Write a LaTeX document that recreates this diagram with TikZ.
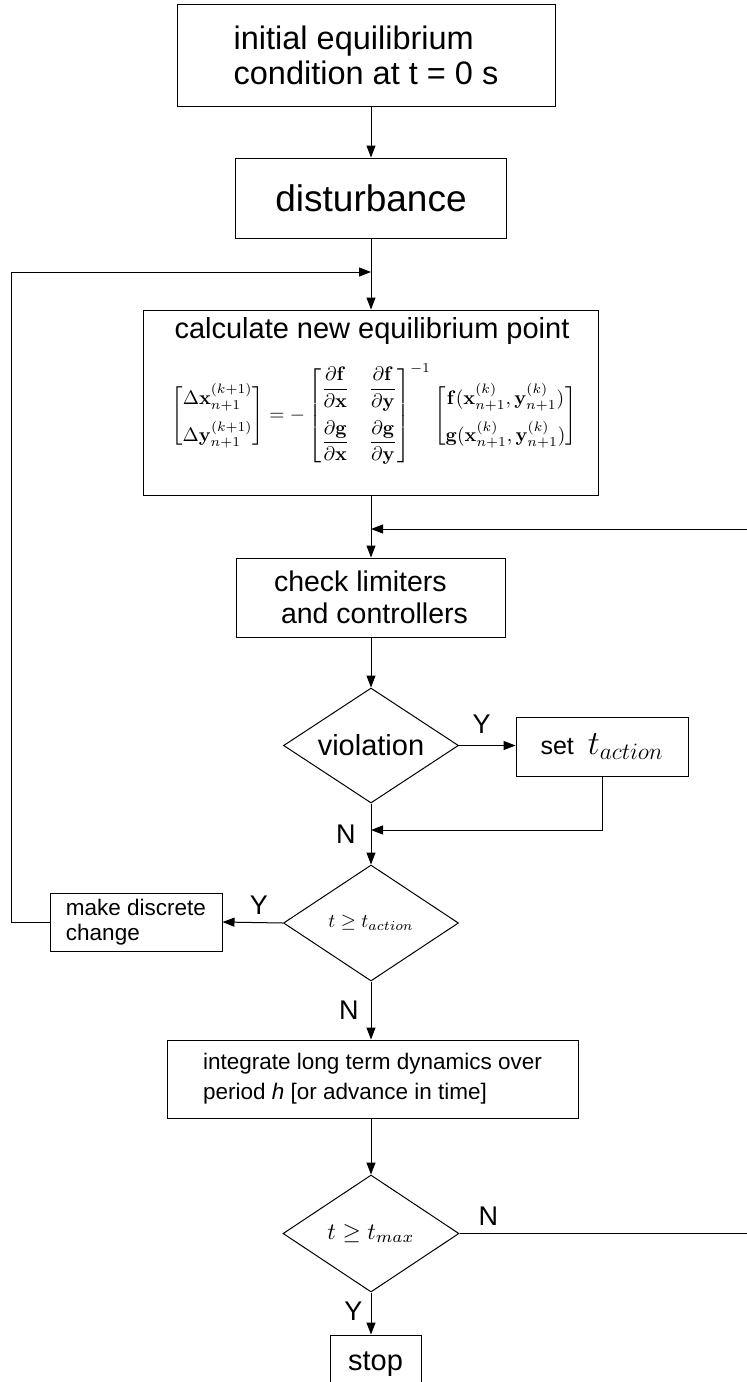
\documentclass[tikz,border=0pt]{standalone}
\usepackage{amsmath}
\usepackage{graphicx}
\usepackage[no-math]{fontspec}
\setmainfont{Liberation Sans}
\usetikzlibrary{shapes.geometric,arrows.meta}
\begin{document}
\begin{tikzpicture}[x=1pt,y=-1pt,
  box/.style={draw,line width=1pt,inner sep=0pt},
  dia/.style={draw,diamond,line width=1pt,inner sep=0pt,aspect=1.5},
  arr/.style={line width=1pt,-{Triangle[length=12pt,width=9pt]}},
  lbl/.style={font=\fontsize{27}{30}\selectfont,inner sep=0pt}]
\fill[white] (0,0) rectangle (747,1382);
\useasboundingbox (0,0) rectangle (747,1382);

\node[box,minimum width=378,minimum height=102,font=\fontsize{32.5}{35}\selectfont,align=left] (init) at (366,55) {initial equilibrium\\condition at t = 0 s};
\node[box,minimum width=271,minimum height=80,font=\fontsize{37}{40}\selectfont] (dist) at (371,198) {disturbance};
\node[box,minimum width=455,minimum height=185] (calc) at (371,402.5) {};
\node[font=\fontsize{29}{32}\selectfont,inner sep=0pt] (calct) at (372,331) {calculate new equilibrium point};
\node[inner sep=0pt] (eq) at (374,414) {\scalebox{1.95}{$\begin{bmatrix}\Delta\mathbf{x}_{n+1}^{(k+1)}\\[5pt] \Delta\mathbf{y}_{n+1}^{(k+1)}\end{bmatrix} = -\begin{bmatrix}\dfrac{\partial\mathbf{f}}{\partial\mathbf{x}} & \dfrac{\partial\mathbf{f}}{\partial\mathbf{y}}\\[10pt] \dfrac{\partial\mathbf{g}}{\partial\mathbf{x}} & \dfrac{\partial\mathbf{g}}{\partial\mathbf{y}}\end{bmatrix}^{-1}\begin{bmatrix}\mathbf{f}(\mathbf{x}_{n+1}^{(k)},\mathbf{y}_{n+1}^{(k)})\\[5pt] \mathbf{g}(\mathbf{x}_{n+1}^{(k)},\mathbf{y}_{n+1}^{(k)})\end{bmatrix}$}};
\node[box,minimum width=269,minimum height=79,font=\fontsize{28.5}{32}\selectfont,align=left] (check) at (371,597.5) {check limiters\\\hspace{7pt}and controllers};
\node[dia,minimum width=175,minimum height=115,font=\fontsize{29}{30}\selectfont] (viol) at (371,745.5) {violation};
\node[box,minimum width=172,minimum height=59,font=\fontsize{25}{28}\selectfont] (set) at (602,747) {set\ \ \scalebox{1.36}{$t_{action}$}};
\node[dia,minimum width=175,minimum height=116] (tact) at (371,923) {\scalebox{1.95}{$t \geq t_{action}$}};
\node[box,minimum width=172,minimum height=58,font=\fontsize{22.5}{25}\selectfont,align=left] (make) at (136,922) {make discrete\\change};
\node[box,minimum width=411,minimum height=78,font=\fontsize{22.5}{30}\selectfont,align=left] (integ) at (372.5,1079) {integrate long term dynamics over\\period \textit{h} [or advance in time]};
\node[dia,minimum width=176,minimum height=117] (tmax) at (371,1233.5) {\scalebox{2.35}{$t \geq t_{max}$}};
\node[box,minimum width=91,minimum height=58,font=\fontsize{29}{30}\selectfont] (stop) at (375.5,1364) {stop};

\coordinate (j1) at (371,272);
\coordinate (j2) at (371,529);
\coordinate (j3) at (371,830);
\coordinate (redge) at (749,1233.5);

\draw[arr] (init.south -| dist.north) -- (dist.north);
\draw[arr] (dist.south) -- (calc.north);
\draw[arr] (make.west) -- ++(-38,0) |- (j1);
\draw[arr] (calc.south) -- (check.north);
\draw[arr] (tmax.east) -- (redge) node[lbl,pos=0.1,above=8pt] {N} -- (redge |- j2) -- (j2);
\draw[arr] (check.south) -- (viol.north);
\draw[arr] (viol.east) -- (viol.east -| set.west) node[lbl,pos=0.4,above=12pt] {Y};
\draw[arr] (set.south) |- (j3);
\draw[arr] (viol.south) -- (tact.north) node[lbl,pos=0.5,left=15pt] {N};
\draw[arr] (tact.west) -- (make.east) node[lbl,pos=0.4,above=8pt] {Y};
\draw[arr] (tact.south) -- (tact.south |- integ.north) node[lbl,pos=0.5,left=12pt] {N};
\draw[arr] (integ.south -| tmax.north) -- (tmax.north);
\draw[arr] (tmax.south) -- (tmax.south |- stop.north) node[lbl,pos=0.45,left=8pt] {Y};
\end{tikzpicture}
\end{document}
